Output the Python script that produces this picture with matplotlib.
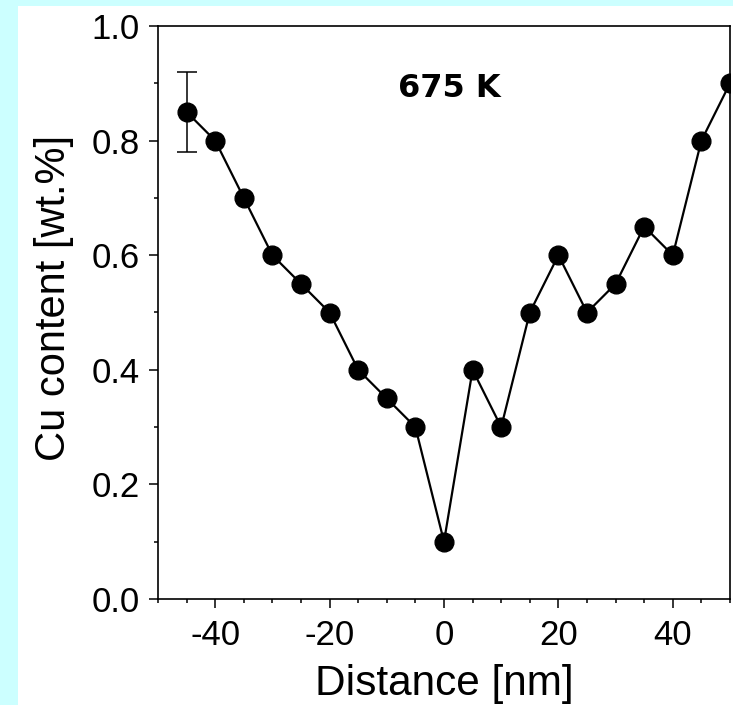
import matplotlib.pyplot as plt
from matplotlib.patches import Rectangle
from matplotlib.ticker import MultipleLocator

distance = [-45, -40, -35, -30, -25, -20, -15, -10, -5, 0,
            5, 10, 15, 20, 25, 30, 35, 40, 45, 50]
cu_content = [0.85, 0.80, 0.70, 0.60, 0.55, 0.50, 0.40, 0.35, 0.30, 0.10,
              0.40, 0.30, 0.50, 0.60, 0.50, 0.55, 0.65, 0.60, 0.80, 0.90]
# only the first point carries an error bar
err_x = [-45]
err_y = [0.85]
err_val = [0.07]

plt.rcParams["font.family"] = ["Liberation Sans", "DejaVu Sans"]

fig = plt.figure(figsize=(7.33, 7.05), dpi=100, facecolor="#ccffff")
fig.patches.append(Rectangle((17.5 / 733, 0), 1, (705 - 6) / 705,
                             transform=fig.transFigure, fc="white", ec="none",
                             zorder=-10))

ax = fig.add_axes([158 / 733, 106 / 705, 572 / 733, 573 / 705])
ax.set_zorder(1)
ax.plot(distance, cu_content, "-o", color="black", lw=1.6, ms=13.5)
ax.errorbar(err_x, err_y, yerr=err_val, fmt="none", ecolor="black",
            elinewidth=1.1, capsize=7.5, capthick=1.1)

ax.set_xlim(-50, 50)
ax.set_ylim(0, 1.0)
ax.xaxis.set_minor_locator(MultipleLocator(5))
ax.yaxis.set_major_locator(MultipleLocator(0.2))
ax.yaxis.set_minor_locator(MultipleLocator(0.1))
ax.set_xticks([-40, -20, 0, 20, 40])
ax.yaxis.set_major_formatter(lambda v, p: f"{v:.1f}")
ax.xaxis.set_major_formatter(lambda v, p: f"{v:.0f}")

ax.tick_params(which="both", direction="out", width=1.1, labelsize=25,
               top=False, right=False)
ax.tick_params(which="major", length=6.5)
ax.tick_params(which="minor", length=3)
ax.tick_params(axis="x", pad=8)
ax.tick_params(axis="y", pad=6.5)
for s in ax.spines.values():
    s.set_linewidth(1.2)

ax.set_xlabel("Distance [nm]", fontsize=30.5, va="baseline")
ax.xaxis.set_label_coords(0.5, -0.1675)
ax.set_ylabel("Cu content [wt.%]", fontsize=30, va="baseline")
ax.yaxis.set_label_coords(-0.1626, 0.525)

ax.text(1, 0.876, "675 K", ha="center", va="baseline", fontsize=23,
        fontweight="bold", family="DejaVu Sans")

fig.savefig("out.png", dpi=100, facecolor=fig.get_facecolor())
